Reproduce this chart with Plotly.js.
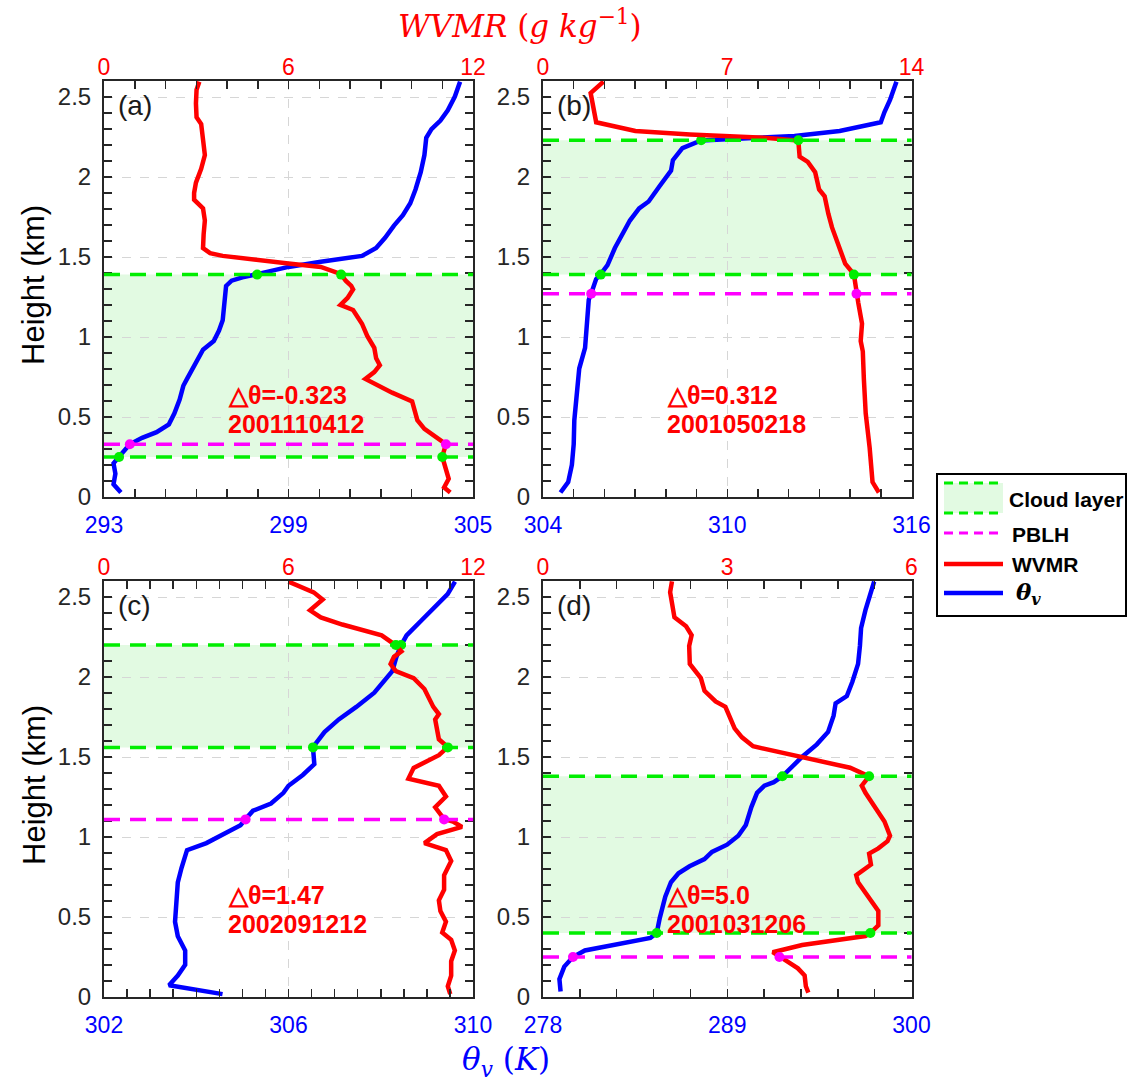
<!DOCTYPE html>
<html><head><meta charset="utf-8">
<script src="https://cdn.plot.ly/plotly-3.0.1.min.js"></script>
<style>html,body{margin:0;padding:0;background:#fff}</style>
</head><body>
<div id="chart" style="width:1128px;height:1083px"></div>
<script>
// ---------------- DATA ----------------
// Panel (a) 2001110412
const heightThetaA = [0.028,0.08,0.146,0.21,0.252,0.33,0.37,0.405,0.454,0.523,0.609,0.695,0.738,0.824,0.889,0.921,0.975,1.04,1.104,1.212,1.319,1.352,1.373,1.393,1.438,1.47,1.507,1.556,1.62,1.696,1.761,1.836,1.922,2.03,2.137,2.245,2.299,2.353,2.417,2.503,2.596];
const thetaA = [293.55,293.31,293.37,293.31,293.49,293.84,294.24,294.71,295.11,295.29,295.46,295.58,295.7,295.93,296.10,296.22,296.57,296.74,296.86,296.91,296.97,297.15,297.5,297.98,299.0,300.05,301.39,301.85,302.14,302.43,302.72,302.96,303.13,303.30,303.42,303.48,303.65,303.94,304.18,304.41,304.58];
const heightWvmrA = [0.028,0.06,0.114,0.179,0.252,0.33,0.372,0.426,0.48,0.598,0.652,0.695,0.738,0.781,0.824,0.867,0.932,1.007,1.083,1.169,1.201,1.244,1.298,1.319,1.352,1.393,1.438,1.459,1.487,1.507,1.524,1.556,1.642,1.728,1.804,1.858,1.9,1.965,2.051,2.137,2.234,2.331,2.374,2.46,2.546,2.596];
const wvmrA = [11.26,11.06,11.21,11.12,11.0,11.12,10.83,10.42,10.19,10.02,9.37,8.91,8.50,8.79,8.97,8.85,8.79,8.56,8.39,8.10,7.69,7.92,8.10,8.04,7.86,7.71,7.05,6.0,4.73,3.86,3.45,3.22,3.24,3.28,3.22,2.93,2.93,2.99,3.16,3.28,3.22,3.16,3.01,2.99,3.01,3.10];

// Panel (b) 2001050218
const heightThetaB = [0.028,0.093,0.2,0.33,0.48,0.652,0.803,0.932,1.083,1.233,1.272,1.362,1.393,1.449,1.556,1.621,1.728,1.804,1.847,1.944,2.04,2.105,2.18,2.228,2.241,2.256,2.288,2.342,2.406,2.482,2.596];
const thetaB = [304.57,304.82,304.94,305.0,305.02,305.10,305.18,305.37,305.43,305.49,305.57,305.73,305.88,306.1,306.34,306.52,306.83,307.13,307.44,307.80,308.17,308.23,308.54,309.15,310.61,312.19,313.66,315.0,315.12,315.30,315.51];
const heightWvmrB = [0.028,0.093,0.308,0.437,0.523,0.738,0.91,0.975,1.083,1.212,1.272,1.362,1.393,1.459,1.556,1.685,1.771,1.879,1.922,2.03,2.094,2.127,2.228,2.245,2.266,2.288,2.342,2.46,2.525,2.596];
const wvmrB = [12.76,12.52,12.41,12.34,12.26,12.19,12.15,12.07,12.12,11.98,11.91,11.84,11.81,11.48,11.27,10.98,10.84,10.70,10.49,10.34,10.06,9.75,9.70,8.42,5.58,3.51,2.02,1.88,1.81,2.30];

// Panel (c) 2002091212
const heightThetaC = [0.018,0.045,0.074,0.134,0.201,0.291,0.38,0.47,0.604,0.716,0.806,0.918,0.962,1.03,1.074,1.112,1.164,1.209,1.276,1.32,1.388,1.455,1.522,1.562,1.656,1.735,1.813,1.902,2.037,2.126,2.198,2.26,2.35,2.44,2.518,2.596];
const thetaC = [304.57,304.07,303.41,303.60,303.76,303.76,303.60,303.54,303.56,303.60,303.68,303.80,304.22,304.65,304.96,305.07,305.23,305.62,305.89,306.0,306.31,306.56,306.55,306.53,306.78,307.09,307.47,307.86,308.25,308.34,308.44,308.56,308.87,309.18,309.45,309.61];
const heightWvmrC = [0.018,0.067,0.134,0.224,0.291,0.358,0.403,0.47,0.537,0.604,0.671,0.761,0.85,0.918,0.962,1.018,1.063,1.097,1.112,1.186,1.253,1.32,1.365,1.432,1.511,1.562,1.611,1.679,1.735,1.768,1.813,1.925,1.992,2.037,2.081,2.126,2.16,2.198,2.26,2.328,2.372,2.417,2.484,2.529,2.596];
const wvmrC = [11.26,11.18,11.29,11.29,11.41,11.29,11.0,11.12,10.94,10.89,11.06,11.06,11.29,11.12,10.42,10.83,11.64,11.35,11.06,10.77,11.12,10.89,9.90,10.07,10.89,11.18,10.89,10.83,10.77,10.89,10.71,10.42,10.07,9.49,9.32,9.43,9.67,9.49,9.03,7.75,7.05,6.70,7.11,6.82,6.0];

// Panel (d) 2001031206
const heightThetaD = [0.034,0.112,0.19,0.25,0.291,0.325,0.369,0.40,0.493,0.627,0.717,0.773,0.817,0.862,0.907,0.952,1.008,1.075,1.187,1.276,1.321,1.343,1.379,1.5,1.579,1.657,1.758,1.836,1.881,1.97,2.082,2.194,2.306,2.418,2.508,2.597];
const thetaD = [279.05,278.98,279.27,279.79,280.50,282.29,284.41,284.79,284.97,285.30,285.64,286.09,286.75,287.64,288.09,288.99,289.66,290.11,290.44,290.78,291.22,291.78,292.29,293.46,294.35,295.02,295.35,295.47,296.14,296.47,296.81,296.92,296.99,297.25,297.48,297.77];
const heightWvmrD = [0.027,0.067,0.134,0.179,0.224,0.25,0.28,0.325,0.381,0.40,0.448,0.537,0.649,0.717,0.761,0.828,0.896,0.929,0.974,1.008,1.097,1.187,1.276,1.321,1.379,1.433,1.5,1.567,1.623,1.679,1.814,1.847,1.914,1.993,2.082,2.194,2.261,2.317,2.373,2.44,2.53,2.597];
const wvmrD = [4.32,4.28,4.26,4.15,3.97,3.85,3.74,4.22,5.25,5.33,5.46,5.46,5.25,5.13,5.10,5.34,5.31,5.46,5.61,5.65,5.56,5.40,5.25,5.19,5.31,5.0,4.22,3.42,3.24,3.12,2.97,2.81,2.63,2.57,2.39,2.38,2.42,2.33,2.14,2.11,2.07,2.10];

// Cloud layer / PBLH heights (km) for panels a,b,c,d
const cloudBase = [0.25, 1.39, 1.56, 0.40];
const cloudTop  = [1.39, 2.23, 2.20, 1.38];
const pblh      = [0.33, 1.27, 1.11, 0.25];
// marker positions where the profiles cross those heights
const thetaAtBase = [293.49, 305.88, 306.53, 284.79];
const thetaAtTop  = [297.98, 309.15, 308.44, 292.29];
const wvmrAtBase  = [11.0, 11.81, 11.18, 5.33];
const wvmrAtTop   = [7.71, 9.70, 9.49, 5.31];
const thetaAtPblh = [293.84, 305.57, 305.07, 279.79];
const wvmrAtPblh  = [11.12, 11.91, 11.06, 3.85];

// Axis ranges / tick labels
const thetaRanges = [[293,305],[304,316],[302,310],[278,300]];
const thetaTicks  = [[293,299,305],[304,310,316],[302,306,310],[278,289,300]];
const thetaMinorStep = [1, 1, 0.5, 2.2];
const wvmrRanges  = [[0,12],[0,14],[0,12],[0,6]];
const wvmrTicks   = [[0,6,12],[0,7,14],[0,6,12],[0,3,6]];
const heightRange = [0, 2.6];
const heightTicks = [0, 0.5, 1, 1.5, 2, 2.5];
const heightTickText = ['0','0.5','1','1.5','2','2.5'];
const panelLabels = ['(a)','(b)','(c)','(d)'];
const deltaTheta  = ['△θ=-0.323','△θ=0.312','△θ=1.47','△θ=5.0'];
const dateLabels  = ['2001110412','2001050218','2002091212','2001031206'];

const thetaH = [heightThetaA, heightThetaB, heightThetaC, heightThetaD];
const thetaV = [thetaA, thetaB, thetaC, thetaD];
const wvmrH  = [heightWvmrA, heightWvmrB, heightWvmrC, heightWvmrD];
const wvmrV  = [wvmrA, wvmrB, wvmrC, wvmrD];

// ---------------- STYLE / LAYOUT ----------------
const W = 1128, H = 1083;
const fx = p => p / W, fy = p => 1 - p / H;
const xDomains = [[104,473],[543,911.5],[104,473],[543,911.5]];
const yDomains = [[81,497],[81,497],[581,997],[581,997]];
const frame = '#262626';
const BLUE = '#0000ff', RED = '#ff0000', GREEN = '#00ee00', MAG = '#ff00ff';
const FILL = 'rgb(226,250,226)';
const tickFont = 'Liberation Sans, Arial, sans-serif';

function seq(lo, hi, step){ const a=[]; for(let k=0; lo+k*step<=hi+1e-9; k++) a.push(+(lo+k*step).toFixed(4)); return a; }

const layout = {
  width: W, height: H, autosize: false,
  margin: {l:0, r:0, t:0, b:0},
  paper_bgcolor: '#fff', plot_bgcolor: 'rgba(0,0,0,0)',
  showlegend: false,
  shapes: [], annotations: []
};
const traces = [];

for (let i = 0; i < 4; i++) {
  const n = i + 1, nt = i + 5;
  const xb = 'xaxis' + (n === 1 ? '' : n), xt = 'xaxis' + nt, ya = 'yaxis' + (n === 1 ? '' : n);
  const xbRef = 'x' + (n === 1 ? '' : n), xtRef = 'x' + nt, yRef = 'y' + (n === 1 ? '' : n);
  const tr = thetaRanges[i];
  layout[xb] = {
    domain: [fx(xDomains[i][0]), fx(xDomains[i][1])], anchor: yRef, side: 'bottom',
    range: tr, tickvals: thetaTicks[i], ticktext: thetaTicks[i].map(String),
    ticks: 'inside', ticklen: 8, tickwidth: 1.5, tickcolor: frame,
    minor: {tickvals: seq(tr[0], tr[1], thetaMinorStep[i]), ticks: 'inside', ticklen: 8, tickwidth: 1.5, tickcolor: frame, showgrid: false},
    showline: true, linewidth: 2, linecolor: frame, mirror: 'ticks',
    showgrid: true, gridcolor: '#d6d6d6', griddash: 'dash', gridwidth: 1,
    zeroline: false, tickfont: {family: tickFont, size: 23, color: BLUE},
    ticklabelstandoff: 6, fixedrange: true
  };
  layout[xt] = {
    overlaying: xbRef, anchor: yRef, side: 'top', range: wvmrRanges[i],
    tickvals: wvmrTicks[i], ticktext: wvmrTicks[i].map(String), ticks: '',
    showline: false, showgrid: false, zeroline: false,
    tickfont: {family: tickFont, size: 23, color: RED}, ticklabelstandoff: 0, fixedrange: true
  };
  layout[ya] = {
    domain: [fy(yDomains[i][1]), fy(yDomains[i][0])], anchor: xbRef,
    range: heightRange, tickvals: heightTicks, ticktext: heightTickText,
    ticks: 'inside', ticklen: 8, tickwidth: 1.5, tickcolor: frame,
    minor: {tickvals: seq(0, 2.6, 0.1), ticks: 'inside', ticklen: 8, tickwidth: 1.5, tickcolor: frame, showgrid: false},
    showline: true, linewidth: 2, linecolor: frame, mirror: 'ticks',
    showgrid: true, gridcolor: '#d6d6d6', griddash: 'dash', gridwidth: 1,
    zeroline: false, tickfont: {family: tickFont, size: 24, color: frame},
    ticklabelstandoff: 6, fixedrange: true
  };

  // cloud layer band and dashed reference lines
  const dom = xbRef + ' domain';
  layout.shapes.push({type: 'rect', xref: dom, yref: yRef, x0: 0, x1: 1, y0: cloudBase[i], y1: cloudTop[i],
    fillcolor: FILL, line: {width: 0}, layer: 'below'});
  [cloudBase[i], cloudTop[i]].forEach(h => layout.shapes.push({type: 'line', xref: dom, yref: yRef, x0: 0, x1: 1, y0: h, y1: h,
    line: {color: GREEN, width: 3.5, dash: '16px,10px'}, layer: 'above'}));
  layout.shapes.push({type: 'line', xref: dom, yref: yRef, x0: 0, x1: 1, y0: pblh[i], y1: pblh[i],
    line: {color: MAG, width: 3.5, dash: '16px,10px'}, layer: 'above'});

  // profiles
  traces.push({type: 'scatter', mode: 'lines', x: wvmrV[i], y: wvmrH[i], xaxis: xtRef, yaxis: yRef,
    line: {color: RED, width: 4.5}, hoverinfo: 'skip'});
  traces.push({type: 'scatter', mode: 'lines', x: thetaV[i], y: thetaH[i], xaxis: xbRef, yaxis: yRef,
    line: {color: BLUE, width: 4.5}, hoverinfo: 'skip'});
  // crossing markers
  traces.push({type: 'scatter', mode: 'markers', x: [thetaAtPblh[i]], y: [pblh[i]], xaxis: xbRef, yaxis: yRef,
    marker: {color: MAG, size: 10}, hoverinfo: 'skip'});
  traces.push({type: 'scatter', mode: 'markers', x: [wvmrAtPblh[i]], y: [pblh[i]], xaxis: xtRef, yaxis: yRef,
    marker: {color: MAG, size: 10}, hoverinfo: 'skip'});
  traces.push({type: 'scatter', mode: 'markers', x: [thetaAtBase[i], thetaAtTop[i]], y: [cloudBase[i], cloudTop[i]], xaxis: xbRef, yaxis: yRef,
    marker: {color: GREEN, size: 10}, hoverinfo: 'skip'});
  traces.push({type: 'scatter', mode: 'markers', x: [wvmrAtBase[i], wvmrAtTop[i]], y: [cloudBase[i], cloudTop[i]], xaxis: xtRef, yaxis: yRef,
    marker: {color: GREEN, size: 10}, hoverinfo: 'skip'});

  // texts
  layout.annotations.push({xref: dom, yref: yRef + ' domain', x: 0.033, y: 0.942, xanchor: 'left', yanchor: 'middle',
    text: panelLabels[i], showarrow: false, font: {family: tickFont, size: 28, color: '#1a1a1a'}});
  layout.annotations.push({xref: dom, yref: yRef + ' domain', x: 0.33, y: 0.244, xanchor: 'left', yanchor: 'middle',
    text: '<b>' + deltaTheta[i] + '</b>', showarrow: false, font: {family: tickFont, size: 25, color: RED}});
  layout.annotations.push({xref: dom, yref: yRef + ' domain', x: 0.33, y: 0.175, xanchor: 'left', yanchor: 'middle',
    text: '<b>' + dateLabels[i] + '</b>', showarrow: false, font: {family: tickFont, size: 25, color: RED}});
}

// y titles
[[81,497],[581,997]].forEach(d => layout.annotations.push({xref: 'paper', yref: 'paper', x: fx(34), y: fy((d[0]+d[1])/2 - 4),
  text: 'Height (km)', textangle: -90, showarrow: false, xanchor: 'center', yanchor: 'middle',
  font: {family: tickFont, size: 31, color: '#000'}}));
// top / bottom titles
layout.annotations.push({xref: 'paper', yref: 'paper', x: fx(520), y: fy(24), xanchor: 'center', yanchor: 'middle',
  text: '<i>WVMR</i> (<i>g kg</i><sup>−1</sup>)', showarrow: false, font: {family: 'DejaVu Serif, serif', size: 31, color: RED}});
layout.annotations.push({xref: 'paper', yref: 'paper', x: fx(506), y: fy(1061), xanchor: 'center', yanchor: 'middle',
  text: '<i>θ<sub>v</sub></i> (<i>K</i>)', showarrow: false, font: {family: 'DejaVu Serif, serif', size: 31, color: BLUE}});

// manual legend (paper coordinates)
const L = {x0: 937, x1: 1126, y0: 474, y1: 616, lx0: 944, lx1: 1003};
layout.shapes.push({type: 'rect', xref: 'paper', yref: 'paper', x0: fx(L.x0), x1: fx(L.x1), y0: fy(L.y1), y1: fy(L.y0),
  fillcolor: '#fff', line: {color: '#000', width: 2}, layer: 'above'});
layout.shapes.push({type: 'rect', xref: 'paper', yref: 'paper', x0: fx(L.lx0), x1: fx(L.lx1), y0: fy(513), y1: fy(483),
  fillcolor: FILL, line: {width: 0}, layer: 'above'});
[[483, GREEN, false], [513, GREEN, false], [533, MAG, false], [564, RED, true], [593, BLUE, true]].forEach(s =>
  layout.shapes.push({type: 'line', xref: 'paper', yref: 'paper', x0: fx(L.lx0), x1: fx(L.lx1), y0: fy(s[0]), y1: fy(s[0]),
    line: {color: s[1], width: s[2] ? 4.5 : 3, dash: s[2] ? 'solid' : '9px,6px'}, layer: 'above'}));
const legendNames = ['Cloud layer', 'PBLH', 'WVMR'];
[[1007, 499], [1010, 534], [1010, 564]].forEach((p, k) => layout.annotations.push({xref: 'paper', yref: 'paper', x: fx(p[0]), y: fy(p[1]),
  xanchor: 'left', yanchor: 'middle', text: '<b>' + legendNames[k] + '</b>', showarrow: false,
  font: {family: tickFont, size: 21, color: '#000'}}));
layout.annotations.push({xref: 'paper', yref: 'paper', x: fx(1014), y: fy(593), xanchor: 'left', yanchor: 'middle',
  text: '<b><i>θ<sub>v</sub></i></b>', showarrow: false, font: {family: 'DejaVu Serif, serif', size: 23, color: '#000'}});

Plotly.newPlot('chart', traces, layout, {staticPlot: true, displayModeBar: false});
</script>
</body></html>
